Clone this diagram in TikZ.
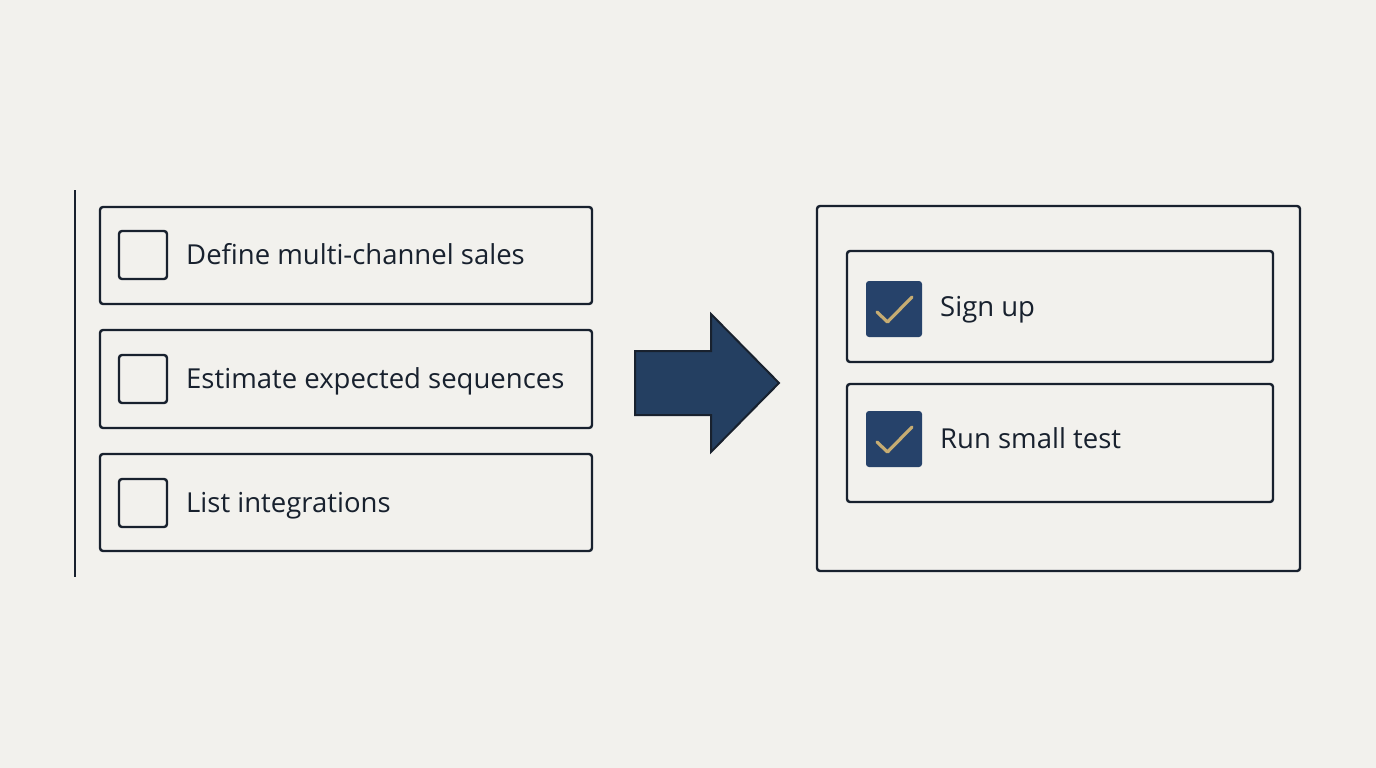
\documentclass[tikz,border=0pt]{standalone}
\usepackage{fontspec}
\setmainfont{Open Sans}
\definecolor{bg}{HTML}{F2F1ED}
\definecolor{ink}{HTML}{18212E}
\definecolor{navy}{HTML}{26426A}
\definecolor{arrowfill}{HTML}{243F61}
\definecolor{gold}{HTML}{C6AC72}
\begin{document}
\begin{tikzpicture}[x=1pt,y=-1pt,
  card/.style={draw=ink,line width=2.4pt,rounded corners=3pt},
  openbox/.style={draw=ink,line width=2.4pt,rounded corners=3pt},
  donebox/.style={fill=navy,rounded corners=3pt},
  tick/.style={draw=gold,line width=3.2pt,line cap=round,line join=round},
  lbl/.style={anchor=base west,inner sep=0pt,text=ink,font=\fontsize{27.5}{32}\selectfont}]
\fill[bg] (0,0) rectangle (1376,768);
\useasboundingbox (0,0) rectangle (1376,768);
% left rule
\draw[ink,line width=2.8pt] (75,190) -- (75,577);
% left cards
\draw[card] (100,207) rectangle (592,304);
\draw[card] (100,330) rectangle (592,428);
\draw[card] (100,454) rectangle (592,551);
\draw[openbox] (119,231) rectangle (167,279);
\draw[openbox] (119,355) rectangle (167,403);
\draw[openbox] (119,479) rectangle (167,527);
\node[lbl] (t1) at (186,264) {Define multi-channel sales};
\node[lbl] (t2) at (186,388) {Estimate expected sequences};
\node[lbl] (t3) at (186,512) {List integrations};
% arrow
\filldraw[fill=arrowfill,draw=ink,line width=2pt,line join=miter]
  (635,351) -- (711,351) -- (711,314) -- (779,383) -- (711,452) -- (711,415) -- (635,415) -- cycle;
% right panel
\draw[card] (817,206) rectangle (1300,571);
\draw[card] (847,251) rectangle (1273,362);
\draw[card] (847,384) rectangle (1273,502);
\fill[donebox] (866,281) rectangle (922,337);
\fill[donebox] (866,411) rectangle (922,467);
\draw[tick] (877,312) -- (887.5,322) -- (912,297);
\draw[tick] (877,442) -- (887.5,452) -- (912,427);
\node[lbl] (s1) at (940,316) {Sign up};
\node[lbl] (s2) at (940,448) {Run small test};
\end{tikzpicture}
\end{document}
